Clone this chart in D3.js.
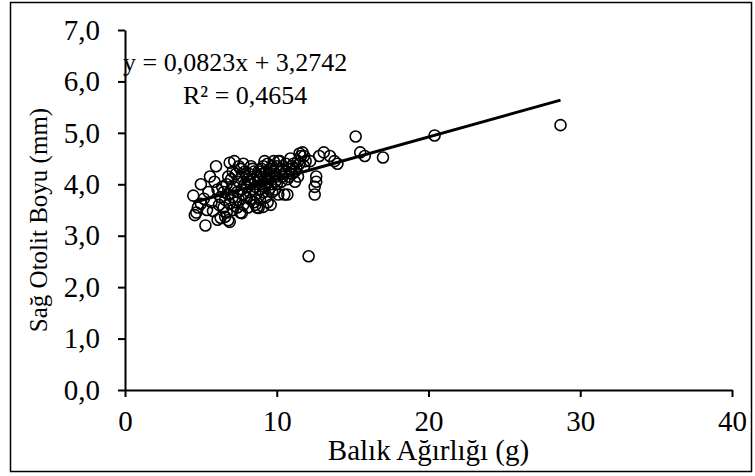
<!DOCTYPE html>
<html lang="tr">
<head>
<meta charset="UTF-8">
<style>
  body {margin: 0; background: #fff;}
  svg text {font-family: "Liberation Serif", "Times New Roman", serif; fill: #000;}
</style>
</head>
<body>
<div id="chart"></div>
<script src="https://d3js.org/d3.v7.min.js"></script>
<script>
// data: fish weight (g) vs right otolith length (mm)
var weights = [4.5,4.6,4.7,4.8,5.0,5.0,5.2,5.3,5.4,5.5,5.6,5.7,5.8,5.9,6.0,6.1,6.1,6.2,6.3,6.3,6.4,6.5,6.5,6.6,6.6,6.7,6.7,6.8,6.8,6.9,6.9,6.9,7.0,7.0,7.1,7.1,7.2,7.2,7.3,7.3,7.4,7.4,7.5,7.5,7.6,7.6,7.7,7.7,7.7,7.8,7.8,7.9,7.9,8.0,8.0,8.1,8.1,8.2,8.2,8.3,8.3,8.4,8.4,8.5,8.5,8.6,8.6,8.7,8.7,8.8,8.8,8.8,8.9,8.9,9.0,9.0,9.1,9.1,9.1,9.2,9.2,9.3,9.3,9.4,9.4,9.5,9.5,9.6,9.6,9.6,9.7,9.7,9.8,9.8,9.9,10.0,10.0,10.1,10.2,10.2,10.3,10.4,10.5,10.5,10.6,10.7,10.8,10.9,11.0,11.1,11.2,11.3,11.4,11.5,11.6,11.7,11.8,11.9,12.1,12.2,12.5,12.5,12.6,12.6,12.8,13.1,13.5,13.8,14.0,15.2,15.5,15.8,17.0,20.4,28.7,
  8.2,8.5,8.9,9.0,9.2,9.3,9.5,9.7,9.9,10.0,10.1,10.3,10.4,10.6,10.8,11.0,11.2,11.4,11.5,11.8,7.5,7.8,8.0,8.3,6.8,7.1,9.9,10.7,8.6,9.4];
var lengths = [3.78,3.40,3.45,3.55,3.62,4.00,3.72,3.20,3.50,3.85,4.15,3.65,3.48,4.05,4.35,3.90,3.31,3.60,3.75,3.35,3.95,3.55,3.85,3.70,3.37,3.45,4.00,3.80,3.30,4.42,3.62,3.27,3.90,4.10,3.50,3.75,4.45,3.95,3.65,4.20,3.85,3.55,4.05,3.70,3.45,4.30,3.90,4.15,3.44,3.80,3.60,4.00,4.25,3.75,3.95,4.10,3.55,3.85,4.20,3.70,4.00,3.90,4.30,3.65,4.10,3.95,3.80,4.15,3.55,4.05,4.25,3.54,3.90,3.70,4.20,4.00,3.85,4.35,3.56,4.10,3.95,4.25,3.75,4.05,4.40,3.90,4.20,4.30,4.00,3.60,4.15,3.85,4.45,4.25,4.05,4.35,4.15,3.80,4.25,4.45,4.05,4.35,3.80,4.20,4.40,4.10,4.30,4.50,4.20,4.40,4.05,4.30,4.45,4.60,4.55,4.62,4.35,4.45,2.60,4.45,3.80,3.95,4.05,4.15,4.55,4.62,4.55,4.45,4.40,4.93,4.62,4.55,4.52,4.95,5.15,
  4.05,4.25,4.15,4.30,4.45,4.00,4.10,4.35,4.20,4.00,4.45,4.30,4.15,4.25,4.15,4.35,4.25,4.15,4.40,4.55,4.35,4.40,4.15,4.35,4.15,4.25,3.90,3.80,3.60,3.65];
var xTicks = [0, 10, 20, 30, 40];
var yTicks = [0, 1, 2, 3, 4, 5, 6, 7];
var slope = 0.0823, intercept = 3.2742;
var eqText = "y = 0,0823x + 3,2742";
var r2Text = "R² = 0,4654";

var W = 755, H = 476;
var margin = {top: 30, right: 23, bottom: 86, left: 125};

var svg = d3.select("#chart").append("svg")
    .attr("width", W)
    .attr("height", H);

// outer frame
svg.append("rect")
    .attr("x", 10.5).attr("y", 2.5)
    .attr("width", 741).attr("height", 469)
    .attr("fill", "none").attr("stroke", "#000").attr("stroke-width", 1.5);

var x = d3.scaleLinear().domain([0, 40]).range([margin.left, W - margin.right]);
var y = d3.scaleLinear().domain([0, 7]).range([H - margin.bottom, margin.top]);

var fmt = function (d) { return d.toFixed(1).replace(".", ","); };

// x axis
var gx = svg.append("g")
    .attr("transform", "translate(0," + y(0) + ")")
    .call(d3.axisBottom(x).tickValues(xTicks).tickSize(7).tickSizeOuter(0).tickPadding(13));
gx.selectAll("text").style("font-size", "29px");

// y axis
var gy = svg.append("g")
    .attr("transform", "translate(" + x(0) + ",0)")
    .call(d3.axisLeft(y).tickValues(yTicks).tickFormat(fmt).tickSize(7).tickSizeOuter(0).tickPadding(18));
gy.selectAll("text").style("font-size", "29px");

svg.selectAll(".domain, .tick line").attr("stroke", "#000").attr("stroke-width", 2);

// points
svg.append("g").selectAll("circle")
    .data(weights)
    .enter().append("circle")
    .attr("cx", function (d) { return x(d); })
    .attr("cy", function (d, i) { return y(lengths[i]); })
    .attr("r", 5.5)
    .attr("fill", "none")
    .attr("stroke", "#000")
    .attr("stroke-width", 1.6);

// trend line
var xmin = d3.min(weights), xmax = d3.max(weights);
svg.append("line")
    .attr("x1", x(xmin)).attr("y1", y(slope * xmin + intercept))
    .attr("x2", x(xmax)).attr("y2", y(slope * xmax + intercept))
    .attr("stroke", "#000").attr("stroke-width", 3);

// equation
svg.append("text").attr("x", 123).attr("y", 71)
    .style("font-size", "26px").text(eqText);
svg.append("text").attr("x", 183).attr("y", 104)
    .style("font-size", "26px").text(r2Text);

// axis titles
svg.append("text")
    .attr("x", x(20)).attr("y", 460)
    .attr("text-anchor", "middle")
    .style("font-size", "29px")
    .text("Balık Ağırlığı (g)");

svg.append("text")
    .attr("transform", "translate(47," + 220 + ") rotate(-90)")
    .attr("text-anchor", "middle")
    .style("font-size", "25px")
    .text("Sağ Otolit Boyu (mm)");
</script>
</body>
</html>
